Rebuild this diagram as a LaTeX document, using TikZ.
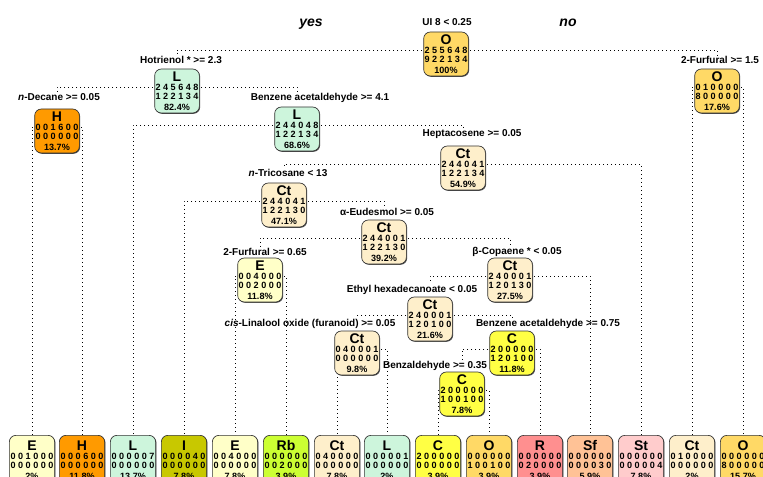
\documentclass[tikz,border=0pt]{standalone}
\usepackage{fontspec}
\setmainfont{Liberation Sans}
\usetikzlibrary{backgrounds,shadows}
\definecolor{cO}{HTML}{FFD966}
\definecolor{cL}{HTML}{CDF5DC}
\definecolor{cH}{HTML}{FF9A00}
\definecolor{cCt}{HTML}{FEEFCB}
\definecolor{cE}{HTML}{FFFFC8}
\definecolor{cI}{HTML}{C8C800}
\definecolor{cRb}{HTML}{CCFF33}
\definecolor{cC}{HTML}{FFFF44}
\definecolor{cR}{HTML}{FF8F8F}
\definecolor{cSf}{HTML}{FFC296}
\definecolor{cSt}{HTML}{FFCCCC}
\newcommand{\tnode}[4]{{\fontsize{10.5}{10.5}\selectfont #1}\\[0pt]#2\\[-0.6pt]#3\\[1.2pt]#4}

\begin{document}
\begin{tikzpicture}[x=0.75pt,y=-0.75pt,
  box/.style={draw=black!80,line width=0.5pt,rounded corners=5pt,minimum width=33.5pt,minimum height=33pt,inner sep=0pt,align=center,font=\bfseries\fontsize{6.8}{7}\selectfont,drop shadow={shadow xshift=0.6pt,shadow yshift=-0.6pt,fill=black!70,opacity=1}},
  leaf/.style={box,minimum width=34pt,minimum height=37pt},
  split/.style={anchor=base,inner sep=1pt,font=\bfseries\fontsize{7.5}{8}\selectfont},
  branch/.style={line width=0.7pt,dash pattern=on 0.7pt off 2.3pt}]
\useasboundingbox (0,0) rectangle (763,477);
\node[anchor=base,font=\bfseries\itshape\fontsize{10.5}{11}\selectfont] (yes) at (311,27) {yes};
\node[anchor=base,font=\bfseries\itshape\fontsize{10.5}{11}\selectfont] (no) at (568,27) {no};
\node[box,fill=cO] (root) at (446,54) {\tnode{O}{2 5 5 6 4 8}{9 2 2 1 3 4}{100\%}};
\node[split] (sroot) at (447,26) {UI 8 < 0.25};
\node[box,fill=cL] (hotr) at (177,91) {\tnode{L}{2 4 5 6 4 8}{1 2 2 1 3 4}{82.4\%}};
\node[split] (shotr) at (181,64) {Hotrienol * >= 2.3};
\node[box,fill=cO] (furA) at (717,91) {\tnode{O}{0 1 0 0 0 0}{8 0 0 0 0 0}{17.6\%}};
\node[split] (sfurA) at (720,64) {2-Furfural >= 1.5};
\node[box,fill=cH] (dec) at (57,131) {\tnode{H}{0 0 1 6 0 0}{0 0 0 0 0 0}{13.7\%}};
\node[split] (sdec) at (59,101) {\textit{n}-Decane >= 0.05};
\node[box,fill=cL] (benzA) at (297,129) {\tnode{L}{2 4 4 0 4 8}{1 2 2 1 3 4}{68.6\%}};
\node[split] (sbenzA) at (320,101) {Benzene acetaldehyde >= 4.1};
\node[box,fill=cCt] (hept) at (463,168) {\tnode{Ct}{2 4 4 0 4 1}{1 2 2 1 3 4}{54.9\%}};
\node[split] (shept) at (472,137) {Heptacosene >= 0.05};
\node[box,fill=cCt] (tric) at (284,205) {\tnode{Ct}{2 4 4 0 4 1}{1 2 2 1 3 0}{47.1\%}};
\node[split] (stric) at (288,177) {\textit{n}-Tricosane < 13};
\node[box,fill=cCt] (eud) at (384,242) {\tnode{Ct}{2 4 4 0 0 1}{1 2 2 1 3 0}{39.2\%}};
\node[split] (seud) at (387,215) {α-Eudesmol >= 0.05};
\node[box,fill=cE] (furB) at (260,280) {\tnode{E}{0 0 4 0 0 0}{0 0 2 0 0 0}{11.8\%}};
\node[split] (sfurB) at (265,255) {2-Furfural >= 0.65};
\node[box,fill=cCt] (cop) at (510,280) {\tnode{Ct}{2 4 0 0 0 1}{1 2 0 1 3 0}{27.5\%}};
\node[split] (scop) at (517,254) {β-Copaene * < 0.05};
\node[box,fill=cCt] (eth) at (430,319) {\tnode{Ct}{2 4 0 0 0 1}{1 2 0 1 0 0}{21.6\%}};
\node[split] (seth) at (412,292) {Ethyl hexadecanoate < 0.05};
\node[box,fill=cCt] (lin) at (357,353) {\tnode{Ct}{0 4 0 0 0 1}{0 0 0 0 0 0}{9.8\%}};
\node[split] (slin) at (310,326) {\textit{cis}-Linalool oxide (furanoid) >= 0.05};
\node[box,fill=cC] (benzB) at (512,353) {\tnode{C}{2 0 0 0 0 0}{1 2 0 1 0 0}{11.8\%}};
\node[split] (sbenzB) at (548,326) {Benzene acetaldehyde >= 0.75};
\node[box,fill=cC] (bald) at (462,394) {\tnode{C}{2 0 0 0 0 0}{1 0 0 1 0 0}{7.8\%}};
\node[split] (sbald) at (435,368) {Benzaldehyde >= 0.35};
\node[leaf,fill=cE] (lE1) at (32,460) {\tnode{E}{0 0 1 0 0 0}{0 0 0 0 0 0}{2\%}};
\node[leaf,fill=cH] (lH) at (82,460) {\tnode{H}{0 0 0 6 0 0}{0 0 0 0 0 0}{11.8\%}};
\node[leaf,fill=cL] (lL1) at (133,460) {\tnode{L}{0 0 0 0 0 7}{0 0 0 0 0 0}{13.7\%}};
\node[leaf,fill=cI] (lI) at (184,460) {\tnode{I}{0 0 0 0 4 0}{0 0 0 0 0 0}{7.8\%}};
\node[leaf,fill=cE] (lE2) at (235,460) {\tnode{E}{0 0 4 0 0 0}{0 0 0 0 0 0}{7.8\%}};
\node[leaf,fill=cRb] (lRb) at (286,460) {\tnode{Rb}{0 0 0 0 0 0}{0 0 2 0 0 0}{3.9\%}};
\node[leaf,fill=cCt] (lCt1) at (337,460) {\tnode{Ct}{0 4 0 0 0 0}{0 0 0 0 0 0}{7.8\%}};
\node[leaf,fill=cL] (lL2) at (387,460) {\tnode{L}{0 0 0 0 0 1}{0 0 0 0 0 0}{2\%}};
\node[leaf,fill=cC] (lC) at (438,460) {\tnode{C}{2 0 0 0 0 0}{0 0 0 0 0 0}{3.9\%}};
\node[leaf,fill=cO] (lO1) at (489,460) {\tnode{O}{0 0 0 0 0 0}{1 0 0 1 0 0}{3.9\%}};
\node[leaf,fill=cR] (lR) at (540,460) {\tnode{R}{0 0 0 0 0 0}{0 2 0 0 0 0}{3.9\%}};
\node[leaf,fill=cSf] (lSf) at (590,460) {\tnode{Sf}{0 0 0 0 0 0}{0 0 0 0 3 0}{5.9\%}};
\node[leaf,fill=cSt] (lSt) at (641,460) {\tnode{St}{0 0 0 0 0 0}{0 0 0 0 0 4}{7.8\%}};
\node[leaf,fill=cCt] (lCt2) at (692,460) {\tnode{Ct}{0 1 0 0 0 0}{0 0 0 0 0 0}{2\%}};
\node[leaf,fill=cO] (lO2) at (743,460) {\tnode{O}{0 0 0 0 0 0}{8 0 0 0 0 0}{15.7\%}};
\begin{scope}[on background layer]
\draw[branch] ([yshift=3pt]root.center) -| (hotr.north |- shotr.north);
\draw[branch] ([yshift=3pt]root.center) -| (furA.north |- sfurA.north);
\draw[branch] ([yshift=3pt]furA.center) -| (lCt2.north);
\draw[branch] ([yshift=3pt]furA.center) -| (lO2.north);
\draw[branch] ([yshift=3pt]hotr.center) -| (dec.north |- sdec.north);
\draw[branch] ([yshift=3pt]hotr.center) -| (benzA.north |- sbenzA.north);
\draw[branch] ([yshift=3pt]dec.center) -| (lE1.north);
\draw[branch] ([yshift=3pt]dec.center) -| (lH.north);
\draw[branch] ([yshift=3pt]benzA.center) -| (lL1.north);
\draw[branch] ([yshift=3pt]benzA.center) -| (hept.north |- shept.north);
\draw[branch] ([yshift=3pt]hept.center) -| (tric.north |- stric.north);
\draw[branch] ([yshift=3pt]hept.center) -| (lSt.north);
\draw[branch] ([yshift=3pt]tric.center) -| (lI.north);
\draw[branch] ([yshift=3pt]tric.center) -| (eud.north |- seud.north);
\draw[branch] ([yshift=3pt]eud.center) -| (furB.north |- sfurB.north);
\draw[branch] ([yshift=3pt]eud.center) -| (cop.north |- scop.north);
\draw[branch] ([yshift=3pt]furB.center) -| (lE2.north);
\draw[branch] ([yshift=3pt]furB.center) -| (lRb.north);
\draw[branch] ([yshift=3pt]cop.center) -| (eth.north |- seth.north);
\draw[branch] ([yshift=3pt]cop.center) -| (lSf.north);
\draw[branch] ([yshift=3pt]eth.center) -| (lin.north |- slin.north);
\draw[branch] ([yshift=3pt]eth.center) -| (benzB.north |- sbenzB.north);
\draw[branch] ([yshift=3pt]lin.center) -| (lCt1.north);
\draw[branch] ([yshift=3pt]lin.center) -| (lL2.north);
\draw[branch] ([yshift=3pt]benzB.center) -| (bald.north |- sbald.north);
\draw[branch] ([yshift=3pt]benzB.center) -| (lR.north);
\draw[branch] ([yshift=3pt]bald.center) -| (lC.north);
\draw[branch] ([yshift=3pt]bald.center) -| (lO1.north);
\end{scope}
\end{tikzpicture}
\end{document}
